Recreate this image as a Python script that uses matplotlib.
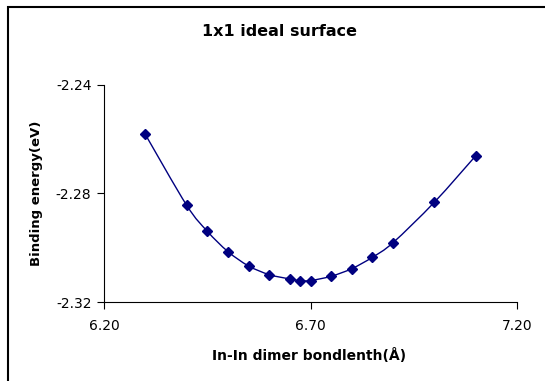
import numpy as np
import matplotlib
matplotlib.use("Agg")
import matplotlib.pyplot as plt
from matplotlib.path import Path
from matplotlib.patches import PathPatch, Rectangle

# bond length (Angstrom) vs binding energy (eV)
bond_length = [6.30, 6.40, 6.45, 6.50, 6.55, 6.60, 6.65, 6.675, 6.70,
               6.75, 6.80, 6.85, 6.90, 7.00, 7.10]
binding_energy = [-2.2582, -2.2843, -2.2939, -2.3014, -2.3067, -2.3099,
                  -2.3115, -2.3121, -2.3121, -2.3105, -2.3077, -2.3035,
                  -2.2981, -2.2832, -2.2661]
x_ticks = [6.20, 6.70, 7.20]
y_ticks = [-2.32, -2.28, -2.24]

plt.rcParams['font.family'] = ['DejaVu Sans']

fig = plt.figure(figsize=(5.45, 3.81), dpi=100)
ax = fig.add_axes([104/545, 1 - 302/381, (517 - 104)/545, (302 - 85)/381])

# Excel-style smoothed line: cubic Bezier segments through the points
x = np.array(bond_length)
y = np.array(binding_energy)
n = len(x)
verts = [(x[0], y[0])]
codes = [Path.MOVETO]
t = 1 / 6
for i in range(n - 1):
    p0 = (x[max(i - 1, 0)], y[max(i - 1, 0)])
    p1 = (x[i], y[i])
    p2 = (x[i + 1], y[i + 1])
    p3 = (x[min(i + 2, n - 1)], y[min(i + 2, n - 1)])
    c1 = (p1[0] + (p2[0] - p0[0]) * t, p1[1] + (p2[1] - p0[1]) * t)
    c2 = (p2[0] - (p3[0] - p1[0]) * t, p2[1] - (p3[1] - p1[1]) * t)
    verts += [c1, c2, p2]
    codes += [Path.CURVE4] * 3
ax.add_patch(PathPatch(Path(verts, codes), facecolor='none',
                       edgecolor='#000080', lw=1.0))
ax.plot(bond_length, binding_energy, linestyle='none', marker='D',
        markersize=5.5, color='#000080')

ax.set_xlim(6.20, 7.20)
ax.set_ylim(-2.32, -2.24)
ax.set_xticks(x_ticks)
ax.set_xticklabels([f"{v:.2f}" for v in x_ticks])
ax.set_yticks(y_ticks)
ax.set_yticklabels([f"{v:.2f}" for v in y_ticks])
ax.tick_params(direction='out', length=5, width=0.8, labelsize=10)
ax.tick_params(axis='x', pad=7)
ax.tick_params(axis='y', pad=4)
for s in ['top', 'right']:
    ax.spines[s].set_visible(False)

fig.text(280/545, 1 - 36/381, "1x1 ideal surface", ha='center', va='baseline',
         fontsize=11.5, fontweight='bold')
fig.text(309/545, 1 - 360/381, "In-In dimer bondlenth(Å)", ha='center',
         va='baseline', fontsize=10, fontweight='bold')
fig.text(37/545, 1 - 193/381, "Binding energy(eV)", ha='center', va='center',
         rotation=90, fontsize=9.5, fontweight='bold')

# outer chart border (runs off the right and bottom edges)
fig.patches.append(Rectangle((8/545, -0.1), 1.2, 1 - 7/381 + 0.1,
                             transform=fig.transFigure, fill=False,
                             edgecolor='black', lw=1.5))

fig.savefig("out.png", dpi=100)
